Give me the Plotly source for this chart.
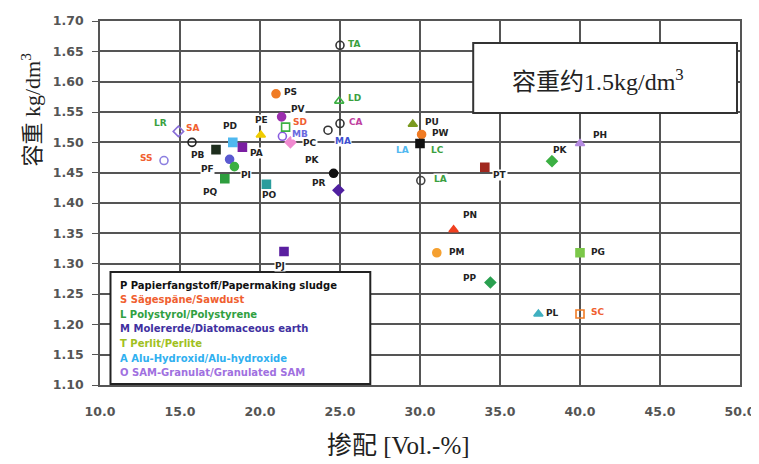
import plotly.graph_objects as go

# ---- data: plotted points ----
pt_x = [21.0, 21.35, 14.9, 15.75, 17.25, 18.3, 18.9, 20.05, 14.0, 18.1, 18.4, 17.8, 20.4,
        21.4, 21.6, 21.9, 24.6, 24.9, 24.25, 25.0, 25.0, 24.95, 21.5, 29.55, 30.1, 30.0,
        30.05, 34.05, 38.25, 40.0, 32.1, 31.05, 40.0, 34.4, 37.4, 40.0]
pt_y = [1.580, 1.542, 1.518, 1.500, 1.488, 1.500, 1.492, 1.512, 1.470, 1.472, 1.460, 1.440, 1.431,
        1.510, 1.525, 1.500, 1.449, 1.421, 1.520, 1.531, 1.660, 1.568, 1.320, 1.530, 1.513, 1.498,
        1.437, 1.459, 1.469, 1.498, 1.356, 1.318, 1.318, 1.269, 1.217, 1.217]
pt_color = ["#f07b24", "#9b2fae", "#8a6fd8", "#222222", "#1e2e1e", "#4fb8ef", "#7b1fa2", "#f0cc00",
            "#8c7fe0", "#5a5ad0", "#3cb043", "#2e9e3e", "#2a9d9d", "#8a5ee0", "#3cb043", "#f08ad0",
            "#111111", "#5020a0", "#333333", "#333333", "#333333", "#3cb043", "#5a1fa0", "#7a9a20",
            "#f07b24", "#111111", "#444444", "#a0281e", "#3cb043", "#b58be0", "#f04020", "#f5a030",
            "#7cc84a", "#2aa050", "#40b0c0", "#f07b24"]
pt_symbol = ["circle", "circle", "diamond-open", "circle-open", "square", "square", "square",
             "triangle-up", "circle-open", "circle", "circle", "square", "square", "circle-open",
             "square-open", "diamond", "circle", "diamond", "circle-open", "circle-open",
             "circle-open", "triangle-up-open", "square", "triangle-up", "circle", "square",
             "circle-open", "square", "diamond", "triangle-up", "triangle-up", "circle", "square",
             "diamond", "triangle-up", "square-open"]

# ---- data: point labels ----
label_text = ["PS", "PV", "LR", "SA", "PD", "PE", "SD", "MB", "CA", "LD", "TA", "PB", "SS", "PA",
              "PC", "MA", "PF", "PI", "PQ", "PO", "PK", "PR", "PJ", "PU", "PW", "LA", "LC", "LA",
              "PT", "PK", "PH", "PN", "PM", "PG", "PP", "PL", "SC"]
label_x = [21.9, 22.4, 13.75, 15.75, 18.1, 20.1, 22.5, 22.5, 26.0, 25.9, 25.9, 16.1, 12.9, 19.8,
           23.1, 25.2, 16.7, 19.1, 16.9, 20.6, 23.3, 23.7, 21.25, 30.75, 31.25, 28.9, 31.1, 31.25,
           35.0, 38.75, 41.25, 33.1, 32.3, 41.1, 33.1, 38.3, 41.1]
label_y = [1.583, 1.555, 1.532, 1.524, 1.527, 1.537, 1.533, 1.514, 1.533, 1.573, 1.662, 1.479, 1.474,
           1.482, 1.499, 1.502, 1.456, 1.446, 1.418, 1.413, 1.471, 1.433, 1.296, 1.533, 1.515, 1.487,
           1.487, 1.440, 1.446, 1.487, 1.512, 1.380, 1.319, 1.319, 1.276, 1.219, 1.220]
label_color = ["#222", "#222", "#3aa040", "#f06030", "#222", "#222", "#f06030", "#6a6ae0", "#c040a0",
               "#3aa040", "#3aa040", "#222", "#f06030", "#222", "#222", "#4050d0", "#222", "#222",
               "#222", "#222", "#222", "#222", "#222", "#222", "#222", "#50b8f0", "#3aa040", "#3aa040",
               "#222", "#222", "#222", "#222", "#222", "#222", "#222", "#222", "#f06030"]

# ---- legend entries ----
legend_lines = ["P Papierfangstoff/Papermaking sludge", "S Sägespäne/Sawdust",
                "L Polystyrol/Polystyrene", "M Molererde/Diatomaceous earth",
                "T Perlit/Perlite", "A Alu-Hydroxid/Alu-hydroxide",
                "O SAM-Granulat/Granulated SAM"]
legend_colors = ["#111111", "#f06030", "#30a040", "#4030a0", "#a0c020", "#30b0f0", "#a070e0"]

x_ticks = [10, 15, 20, 25, 30, 35, 40, 45, 50]
y_ticks = [1.10, 1.15, 1.20, 1.25, 1.30, 1.35, 1.40, 1.45, 1.50, 1.55, 1.60, 1.65, 1.70]

# plot area in window pixels (page body has an 8px margin)
PL, PR, PT, PB = 99.5, 740.0, 21.0, 385.0
PW, PH = PR - PL, PB - PT


def px_x(p):
    return (p - PL) / PW


def px_y(p):
    return (PB - p) / PH


fig = go.Figure()
fig.add_trace(go.Scatter(
    x=pt_x, y=pt_y, mode="markers", showlegend=False,
    marker=dict(color=pt_color, symbol=pt_symbol, size=8,
                line=dict(width=1.6, color=pt_color)),
    cliponaxis=False,
))

annotations = []
for t, x, y, c in zip(label_text, label_x, label_y, label_color):
    annotations.append(dict(x=x, y=y, xref="x", yref="y", text=t, showarrow=False,
                            xanchor="center", yanchor="middle",
                            font=dict(family="DejaVu Sans", size=9, color=c, weight="bold"),
                            bgcolor="white", borderpad=0))

for i, (t, c) in enumerate(zip(legend_lines, legend_colors)):
    ypx = 285 + i * 14.6
    annotations.append(dict(x=px_x(118), y=px_y(ypx), xref="paper", yref="paper",
                            text=t, showarrow=False, xanchor="left", yanchor="middle",
                            font=dict(family="DejaVu Sans", size=10, color=c, weight="bold")))

annotations.append(dict(x=px_x(598), y=px_y(80), xref="paper", yref="paper",
                        text="容重约1.5kg/dm<sup>3</sup>", showarrow=False,
                        xanchor="center", yanchor="middle",
                        font=dict(family="Liberation Serif, Noto Sans CJK SC", size=24, color="#222")))

annotations.append(dict(x=px_x(30), y=px_y(110), xref="paper", yref="paper",
                        text="容重 kg/dm<sup>3</sup>", showarrow=False, textangle=-90,
                        xanchor="center", yanchor="middle",
                        font=dict(family="Liberation Serif, Noto Sans CJK SC", size=22, color="#222")))
annotations.append(dict(x=px_x(398), y=px_y(445), xref="paper", yref="paper",
                        text="掺配 [Vol.-%]", showarrow=False,
                        xanchor="center", yanchor="middle",
                        font=dict(family="Liberation Serif, Noto Sans CJK SC", size=25, color="#222")))

shapes = [
    dict(type="rect", xref="paper", yref="paper",
         x0=px_x(110), x1=px_x(370), y0=px_y(384), y1=px_y(272),
         fillcolor="white", line=dict(color="#222", width=2), layer="above"),
    dict(type="rect", xref="paper", yref="paper",
         x0=px_x(473), x1=px_x(737), y0=px_y(113), y1=px_y(43),
         fillcolor="white", line=dict(color="#333", width=2), layer="above"),
]

tickfont = dict(family="DejaVu Sans", size=12.5, color="#555", weight="bold")

fig.update_layout(
    width=751, height=456,
    margin=dict(l=PL - 8, r=759 - PR, t=PT - 8, b=464 - PB, autoexpand=False),
    paper_bgcolor="white", plot_bgcolor="white",
    annotations=annotations, shapes=shapes,
    xaxis=dict(range=[10, 50], tickvals=x_ticks, tickformat=".1f",
               showgrid=True, gridcolor="#555", gridwidth=1.8, zeroline=False,
               showline=True, linecolor="#555", linewidth=1.8, mirror=True,
               ticks="", ticklabelstandoff=14, tickfont=tickfont),
    yaxis=dict(range=[1.10, 1.70], tickvals=y_ticks, tickformat=".2f",
               showgrid=True, gridcolor="#555", gridwidth=1.8, zeroline=False,
               showline=True, linecolor="#555", linewidth=1.8, mirror=True,
               ticks="outside", ticklen=6, tickcolor="#555", ticklabelstandoff=6,
               tickfont=tickfont),
)

fig.write_html("out.html")
